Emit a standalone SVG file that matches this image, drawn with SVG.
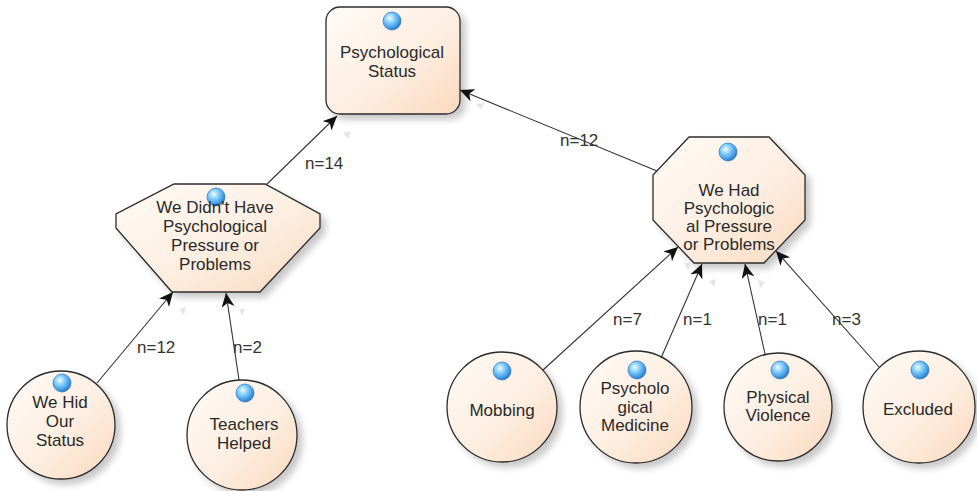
<svg xmlns="http://www.w3.org/2000/svg" width="977" height="491" viewBox="0 0 977 491">
<defs>
  <linearGradient id="fillG" x1="0" y1="0" x2="1" y2="1">
    <stop offset="0" stop-color="#fffbf7"/>
    <stop offset="0.55" stop-color="#fdeee1"/>
    <stop offset="1" stop-color="#fad9bd"/>
  </linearGradient>
  <radialGradient id="ballG" cx="0.38" cy="0.35" r="0.7">
    <stop offset="0" stop-color="#f4fcff"/>
    <stop offset="0.35" stop-color="#8ad3fc"/>
    <stop offset="0.8" stop-color="#3c94e0"/>
    <stop offset="1" stop-color="#2364ad"/>
  </radialGradient>
  <filter id="shadow" x="-20%" y="-20%" width="150%" height="150%">
    <feGaussianBlur in="SourceAlpha" stdDeviation="3.5"/>
    <feOffset dx="5" dy="5" result="b"/>
    <feComponentTransfer><feFuncA type="linear" slope="0.22"/></feComponentTransfer>
    <feMerge><feMergeNode/><feMergeNode in="SourceGraphic"/></feMerge>
  </filter>
  <marker id="arrow" markerUnits="userSpaceOnUse" markerWidth="16" markerHeight="14" refX="14" refY="6.5" orient="auto">
    <path d="M0,0 L14,6.5 L0,13 L4,6.5 Z" fill="#111"/>
  </marker>
</defs>
<style>
  .shape { fill: url(#fillG); stroke: #2b2b2b; stroke-width: 1.3; filter: url(#shadow); }
  .ball { fill: url(#ballG); stroke: #3c7fc4; stroke-width: 0.8; }
  .txt { font-family: "Liberation Sans", Arial, sans-serif; font-size: 17px; fill: #2a2a2a; text-anchor: middle; }
  .lbl { font-family: "Liberation Sans", Arial, sans-serif; font-size: 17px; fill: #333; }
  .edge { stroke: #333; stroke-width: 1.1; fill: none; marker-end: url(#arrow); }
  .ghost { fill: #e6e6e6; }
</style>
<rect width="977" height="491" fill="#ffffff"/>

<g id="node-psychological-status">
  <rect class="shape" x="326" y="7" width="134" height="107" rx="14" ry="14"/>
  <circle class="ball" cx="392" cy="21" r="9"/>
  <text class="txt" x="392" y="58">Psychological</text>
  <text class="txt" x="392" y="77">Status</text>
</g>

<g id="node-no-pressure">
  <polygon class="shape" points="174,184 265,184 320,214 320,228 260,292 172,292 116,228 116,214"/>
  <circle class="ball" cx="216" cy="197" r="9"/>
  <text class="txt" x="215" y="213">We Didn't Have</text>
  <text class="txt" x="215" y="232">Psychological</text>
  <text class="txt" x="215" y="251">Pressure or</text>
  <text class="txt" x="215" y="270">Problems</text>
</g>

<g id="node-had-pressure">
  <polygon class="shape" points="689,137 769,137 805,175 805,220 764,263 694,263 653,220 653,175"/>
  <circle class="ball" cx="728" cy="152" r="9"/>
  <text class="txt" x="729" y="196">We Had</text>
  <text class="txt" x="729" y="214">Psychologic</text>
  <text class="txt" x="729" y="232">al Pressure</text>
  <text class="txt" x="729" y="250">or Problems</text>
</g>

<g id="node-we-hid">
  <circle class="shape" cx="61" cy="425" r="54"/>
  <circle class="ball" cx="62" cy="383" r="9"/>
  <text class="txt" x="60" y="408">We Hid</text>
  <text class="txt" x="60" y="427">Our</text>
  <text class="txt" x="60" y="446">Status</text>
</g>

<g id="node-teachers">
  <circle class="shape" cx="242" cy="435" r="55"/>
  <circle class="ball" cx="245" cy="393" r="9"/>
  <text class="txt" x="244" y="430">Teachers</text>
  <text class="txt" x="244" y="449">Helped</text>
</g>

<g id="node-mobbing">
  <circle class="shape" cx="502" cy="407" r="55"/>
  <circle class="ball" cx="502" cy="371" r="9"/>
  <text class="txt" x="502" y="416">Mobbing</text>
</g>

<g id="node-medicine">
  <circle class="shape" cx="636" cy="407" r="56"/>
  <circle class="ball" cx="637" cy="370" r="9"/>
  <text class="txt" x="635" y="394">Psycholo</text>
  <text class="txt" x="635" y="413">gical</text>
  <text class="txt" x="635" y="431">Medicine</text>
</g>

<g id="node-violence">
  <circle class="shape" cx="778" cy="407" r="54"/>
  <circle class="ball" cx="780" cy="370" r="9"/>
  <text class="txt" x="778" y="403">Physical</text>
  <text class="txt" x="778" y="421">Violence</text>
</g>

<g id="node-excluded">
  <circle class="shape" cx="919" cy="407" r="56"/>
  <circle class="ball" cx="920" cy="370" r="9"/>
  <text class="txt" x="918" y="415">Excluded</text>
</g>

<g id="connectors">
  <line class="edge" x1="266" y1="185" x2="337" y2="116"/>
  <line class="edge" x1="657" y1="171" x2="460" y2="90"/>
  <line class="edge" x1="97" y1="383" x2="173" y2="292"/>
  <line class="edge" x1="239" y1="380" x2="226" y2="293"/>
  <line class="edge" x1="543" y1="370" x2="678" y2="247"/>
  <line class="edge" x1="661" y1="358" x2="702" y2="264"/>
  <line class="edge" x1="765" y1="354" x2="745" y2="264"/>
  <line class="edge" x1="880" y1="368" x2="776" y2="251"/>
  <path class="ghost" d="M343,133 L351,131 L348,139 Z"/>
  <path class="ghost" d="M476,104 L484,103 L481,110 Z"/>
  <path class="ghost" d="M179,309 L186,307 L184,315 Z"/>
  <path class="ghost" d="M239,309 L245,309 L242,316 Z"/>
  <path class="ghost" d="M684,263 L692,263 L688,270 Z"/>
  <path class="ghost" d="M709,281 L716,279 L714,287 Z"/>
  <path class="ghost" d="M758,280 L765,282 L760,288 Z"/>
  <text class="lbl" x="305" y="169">n=14</text>
  <text class="lbl" x="560" y="146">n=12</text>
  <text class="lbl" x="137" y="353">n=12</text>
  <text class="lbl" x="233" y="353">n=2</text>
  <text class="lbl" x="613" y="325">n=7</text>
  <text class="lbl" x="683" y="325">n=1</text>
  <text class="lbl" x="758" y="325">n=1</text>
  <text class="lbl" x="832" y="325">n=3</text>
</g>
</svg>
